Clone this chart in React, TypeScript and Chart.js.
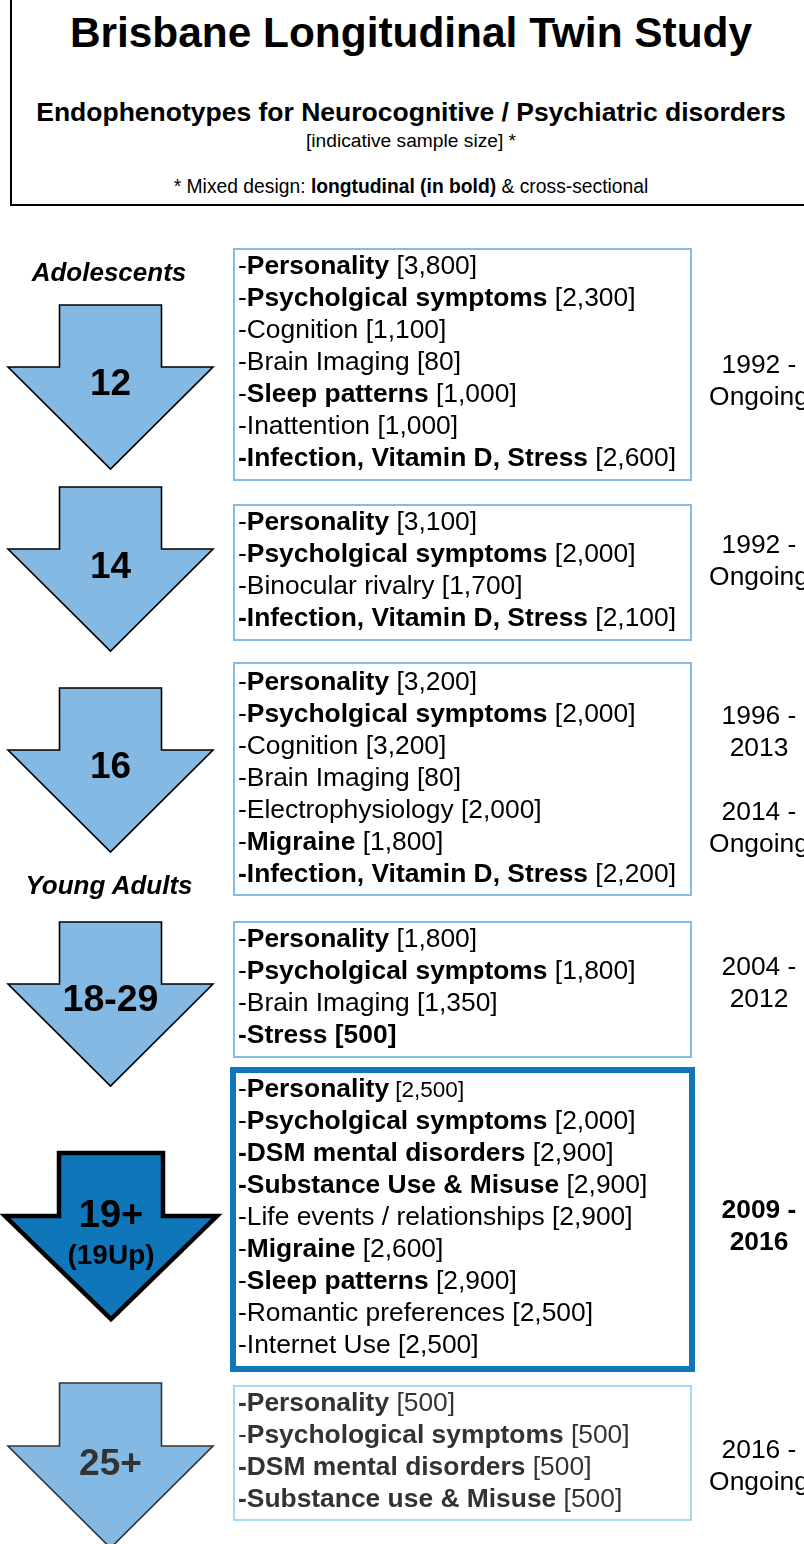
import React, { useEffect, useRef } from "react";
import { Chart, registerables } from "chart.js";

Chart.register(...registerables);

// ---------------- DATA ----------------
const ageGroups = ["12", "14", "16", "18-29", "19+", "25+"];
const ageNotes = ["", "", "", "", "(19Up)", ""];
const lifeStages = ["Adolescents", "Young Adults"];

const measures12 = ["Personality", "Psycholgical symptoms", "Cognition", "Brain Imaging", "Sleep patterns", "Inattention", "Infection, Vitamin D, Stress"];
const samples12 = [3800, 2300, 1100, 80, 1000, 1000, 2600];
const longitudinal12 = [true, true, false, false, true, false, true];
const periods12 = ["1992 -", "Ongoing"];

const measures14 = ["Personality", "Psycholgical symptoms", "Binocular rivalry", "Infection, Vitamin D, Stress"];
const samples14 = [3100, 2000, 1700, 2100];
const longitudinal14 = [true, true, false, true];
const periods14 = ["1992 -", "Ongoing"];

const measures16 = ["Personality", "Psycholgical symptoms", "Cognition", "Brain Imaging", "Electrophysiology", "Migraine", "Infection, Vitamin D, Stress"];
const samples16 = [3200, 2000, 3200, 80, 2000, 1800, 2200];
const longitudinal16 = [true, true, false, false, false, true, true];
const periods16 = ["1996 -", "2013", "", "2014 -", "Ongoing"];

const measures1829 = ["Personality", "Psycholgical symptoms", "Brain Imaging", "Stress"];
const samples1829 = [1800, 1800, 1350, 500];
const longitudinal1829 = [true, true, false, true];
const periods1829 = ["2004 -", "2012"];

const measures19 = ["Personality", "Psycholgical symptoms", "DSM mental disorders", "Substance Use & Misuse", "Life events / relationships", "Migraine", "Sleep patterns", "Romantic preferences", "Internet Use"];
const samples19 = [2500, 2000, 2900, 2900, 2900, 2600, 2900, 2500, 2500];
const longitudinal19 = [true, true, true, true, false, true, true, false, false];
const periods19 = ["2009 -", "2016"];

const measures25 = ["Personality", "Psychological symptoms", "DSM mental disorders", "Substance use & Misuse"];
const samples25 = [500, 500, 500, 500];
const longitudinal25 = [true, true, true, true];
const periods25 = ["2016 -", "Ongoing"];

const titleText = "Brisbane Longitudinal Twin Study";
const subtitleText = "Endophenotypes for Neurocognitive / Psychiatric disorders";
const sampleNote = "[indicative sample size] *";

// ---------------- LAYOUT / STYLE ----------------
const W = 804;
const H = 1544;
const FONT = '"Liberation Sans", Arial, Helvetica, sans-serif';
const LIGHT_FILL = "#84b9e3";
const DARK_FILL = "#0f77b9";
const LIGHT_BORDER = "#86bbe4";
const PALE_BORDER = "#a8d9f5";
const GRAY_TEXT = "#333333";

const ARROW_CX = [110.5, 110.5, 110.5, 110.5, 111, 110.5];
const ARROW_TOPS = [305, 487, 688, 922, 1153, 1383];
const ARROW_SHAFT_HALF = [51, 51, 51, 51, 52, 51];
const ARROW_HEAD_HALF = [102.5, 102.5, 102.5, 102.5, 106, 102.5];
const ARROW_SHAFT_H = [62, 62, 62, 62, 63, 63];
const ARROW_HEAD_H = [102, 102, 102, 102, 103, 102];
const ARROW_FILL = [LIGHT_FILL, LIGHT_FILL, LIGHT_FILL, LIGHT_FILL, DARK_FILL, LIGHT_FILL];
const ARROW_STROKE = ["#000", "#000", "#000", "#000", "#000", GRAY_TEXT];
const ARROW_LW = [1.6, 1.6, 1.6, 1.6, 4.5, 1.6];
const LABEL_CENTER = [382, 565, 765, 999, 1214, 1462];
const LABEL_SIZE = [37, 37, 37, 37.5, 38, 37];
const NOTE_CENTER = [0, 0, 0, 0, 1255, 0];

const STAGE_CENTER = [272, 885];

const BOXES = [
  [233, 248, 692, 481],
  [233, 504, 692, 641],
  [233, 662, 692, 896],
  [233, 921, 692, 1058],
  [230, 1067, 695, 1372],
  [233, 1385, 692, 1521],
];
const BOX_BORDER = [LIGHT_BORDER, LIGHT_BORDER, LIGHT_BORDER, LIGHT_BORDER, DARK_FILL, PALE_BORDER];
const BOX_BW = [2, 2, 2, 2, 6, 2];
const FIRST_LINE_CENTER = [265, 521, 681, 938, 1088, 1402];
const PERIOD_FIRST_CENTER = [364, 544, 715, 966, 1209, 1449];
const LINE_H = 32;
const ITEM_SIZE = 26.4;
const PERIOD_SIZE = 26.4;
const TEXT_COLOR = ["#000", "#000", "#000", "#000", "#000", GRAY_TEXT];
const PERIOD_BOLD = [false, false, false, false, true, false];
const BOLD_DASH = ["Infection, Vitamin D, Stress", "DSM mental disorders", "Substance Use & Misuse", "Substance use & Misuse", "Stress"];

const groups = [
  { measures: measures12, samples: samples12, longitudinal: longitudinal12, periods: periods12 },
  { measures: measures14, samples: samples14, longitudinal: longitudinal14, periods: periods14 },
  { measures: measures16, samples: samples16, longitudinal: longitudinal16, periods: periods16 },
  { measures: measures1829, samples: samples1829, longitudinal: longitudinal1829, periods: periods1829 },
  { measures: measures19, samples: samples19, longitudinal: longitudinal19, periods: periods19 },
  { measures: measures25, samples: samples25, longitudinal: longitudinal25, periods: periods25 },
];

const fmt = (n: number) => n.toLocaleString("en-US");

const arrowPlugin = {
  id: "ageArrows",
  afterDatasetsDraw(chart: any) {
    const ctx = chart.ctx;
    const xs = chart.scales.x;
    const ys = chart.scales.y;
    const meta = chart.getDatasetMeta(0);
    meta.data.forEach((el: any, i: number) => {
      const cx = el.x;
      const top = el.y;
      const sh = xs.getPixelForValue(ARROW_SHAFT_HALF[i]) - xs.getPixelForValue(0);
      const hh = xs.getPixelForValue(ARROW_HEAD_HALF[i]) - xs.getPixelForValue(0);
      const wing = ys.getPixelForValue(ARROW_TOPS[i] + ARROW_SHAFT_H[i]);
      const tip = ys.getPixelForValue(ARROW_TOPS[i] + ARROW_SHAFT_H[i] + ARROW_HEAD_H[i]);
      ctx.save();
      ctx.beginPath();
      ctx.moveTo(cx - sh, top);
      ctx.lineTo(cx + sh, top);
      ctx.lineTo(cx + sh, wing);
      ctx.lineTo(cx + hh, wing);
      ctx.lineTo(cx, tip);
      ctx.lineTo(cx - hh, wing);
      ctx.lineTo(cx - sh, wing);
      ctx.closePath();
      ctx.fillStyle = ARROW_FILL[i];
      ctx.fill();
      ctx.lineWidth = ARROW_LW[i];
      ctx.strokeStyle = ARROW_STROKE[i];
      ctx.lineJoin = "miter";
      ctx.stroke();
      ctx.restore();
    });
  },
};

function Item({ g, i, name, n, long }: { g: number; i: number; name: string; n: number; long: boolean }) {
  const dashBold = long && (BOLD_DASH.includes(name) || (g === 5 && i !== 1));
  const countBold = g === 3 && name === "Stress";
  const countSmall = g === 4 && i === 0;
  return (
    <div style={{ whiteSpace: "nowrap", height: LINE_H }}>
      <span style={{ fontWeight: dashBold ? 700 : 400 }}>-</span>
      <span style={{ fontWeight: long ? 700 : 400 }}>{name}</span>
      <span style={{ fontWeight: countBold ? 700 : 400, fontSize: countSmall ? 22.5 : undefined }}>{" [" + fmt(n) + "]"}</span>
    </div>
  );
}

export default function App() {
  const canvasRef = useRef<HTMLCanvasElement | null>(null);

  useEffect(() => {
    if (!canvasRef.current) return;
    const chart = new Chart(canvasRef.current, {
      type: "scatter",
      data: {
        labels: ageGroups,
        datasets: [
          {
            label: "Age groups",
            data: ageGroups.map((_, i) => ({ x: ARROW_CX[i], y: ARROW_TOPS[i] })),
            pointRadius: 0,
            pointHoverRadius: 0,
          },
        ],
      },
      options: {
        animation: false,
        responsive: true,
        maintainAspectRatio: false,
        layout: { padding: 0 },
        events: [],
        plugins: { legend: { display: false }, tooltip: { enabled: false } },
        scales: {
          x: { type: "linear", min: 0, max: W, display: false },
          y: { type: "linear", min: 0, max: H, reverse: true, display: false },
        },
      },
      plugins: [arrowPlugin],
    } as any);
    return () => chart.destroy();
  }, []);

  return (
    <div
      style={{
        position: "absolute",
        left: 0,
        top: 0,
        width: W,
        height: H,
        overflow: "hidden",
        background: "#fff",
        fontFamily: FONT,
        color: "#000",
      }}
    >
      {/* title box */}
      <div
        style={{
          position: "absolute",
          left: 10,
          top: -4,
          width: 830,
          height: 210,
          border: "2px solid #000",
          boxSizing: "border-box",
        }}
      />
      <div style={{ position: "absolute", left: 10, width: 802, top: 12, textAlign: "center", fontWeight: 700, fontSize: 42.4, lineHeight: "42px", whiteSpace: "nowrap" }}>
        {titleText}
      </div>
      <div style={{ position: "absolute", left: 10, width: 802, top: 99, textAlign: "center", fontWeight: 700, fontSize: 26.5, lineHeight: "26px", whiteSpace: "nowrap" }}>
        {subtitleText}
      </div>
      <div style={{ position: "absolute", left: 10, width: 802, top: 131, textAlign: "center", fontSize: 19.2, lineHeight: "19px", whiteSpace: "nowrap" }}>
        {sampleNote}
      </div>
      <div style={{ position: "absolute", left: 10, width: 802, top: 177, textAlign: "center", fontSize: 19.3, lineHeight: "19px", whiteSpace: "nowrap" }}>
        {"* Mixed design: "}
        <b>longtudinal (in bold)</b>
        {" & cross-sectional"}
      </div>

      {/* chart canvas with arrows */}
      <div style={{ position: "absolute", left: 0, top: 0, width: W, height: H }}>
        <canvas ref={canvasRef} />
      </div>

      {/* life stage labels */}
      {lifeStages.map((s, i) => (
        <div
          key={s}
          style={{
            position: "absolute",
            left: 0,
            width: 218,
            top: STAGE_CENTER[i] - 13,
            textAlign: "center",
            fontWeight: 700,
            fontStyle: "italic",
            fontSize: 26,
            lineHeight: "26px",
            whiteSpace: "nowrap",
          }}
        >
          {s}
        </div>
      ))}

      {/* arrow labels */}
      {ageGroups.map((a, i) => (
        <React.Fragment key={a}>
          <div
            style={{
              position: "absolute",
              left: ARROW_CX[i] - 100,
              width: 200,
              top: LABEL_CENTER[i] - LABEL_SIZE[i] / 2,
              textAlign: "center",
              fontWeight: 700,
              fontSize: LABEL_SIZE[i],
              lineHeight: LABEL_SIZE[i] + "px",
              color: TEXT_COLOR[i],
            }}
          >
            {a}
          </div>
          {ageNotes[i] ? (
            <div
              style={{
                position: "absolute",
                left: ARROW_CX[i] - 100,
                width: 200,
                top: NOTE_CENTER[i] - 14,
                textAlign: "center",
                fontWeight: 700,
                fontSize: 28,
                lineHeight: "28px",
              }}
            >
              {ageNotes[i]}
            </div>
          ) : null}
        </React.Fragment>
      ))}

      {/* boxes */}
      {groups.map((g, gi) => {
        const [x0, y0, x1, y1] = BOXES[gi];
        return (
          <React.Fragment key={"box" + gi}>
            <div
              style={{
                position: "absolute",
                left: x0,
                top: y0,
                width: x1 - x0,
                height: y1 - y0,
                border: `${BOX_BW[gi]}px solid ${BOX_BORDER[gi]}`,
                boxSizing: "border-box",
              }}
            />
            <div
              style={{
                position: "absolute",
                left: 238,
                top: FIRST_LINE_CENTER[gi] - 15.7,
                fontSize: ITEM_SIZE,
                lineHeight: LINE_H + "px",
                color: TEXT_COLOR[gi],
              }}
            >
              {g.measures.map((m, i) => (
                <Item key={m} g={gi} i={i} name={m} n={g.samples[i]} long={g.longitudinal[i]} />
              ))}
            </div>
            <div
              style={{
                position: "absolute",
                left: 659,
                width: 200,
                top: PERIOD_FIRST_CENTER[gi] - 15.7,
                textAlign: "center",
                fontSize: PERIOD_SIZE,
                lineHeight: LINE_H + "px",
                fontWeight: PERIOD_BOLD[gi] ? 700 : 400,
                whiteSpace: "nowrap",
              }}
            >
              {g.periods.map((p, i) => (
                <div key={i} style={{ height: LINE_H }}>
                  {p || "\u00a0"}
                </div>
              ))}
            </div>
          </React.Fragment>
        );
      })}
    </div>
  );
}
